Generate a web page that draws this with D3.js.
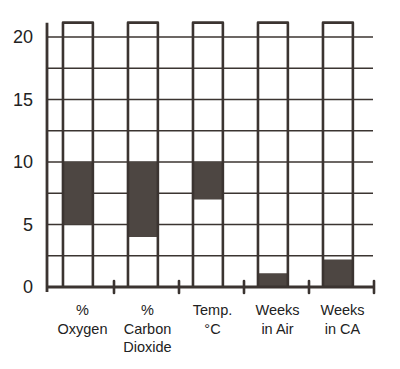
<!DOCTYPE html>
<html>
<head>
<meta charset="utf-8">
<script src="https://cdn.jsdelivr.net/npm/d3@7"></script>
<style>
  html, body { margin: 0; padding: 0; background: #fff; }
  svg { display: block; }
</style>
</head>
<body>
<svg id="chart" width="400" height="369"></svg>
<script>
// ---- data ----
const categories = ["% Oxygen", "% Carbon Dioxide", "Temp. °C", "Weeks in Air", "Weeks in CA"];
const labelLines = [["%", "Oxygen"], ["%", "Carbon", "Dioxide"], ["Temp.", "°C"], ["Weeks", "in Air"], ["Weeks", "in CA"]];
const lowValues = [5, 4, 7, 0, 0];
const highValues = [10, 10, 10, 1.1, 2.2];
const yTicks = [0, 5, 10, 15, 20];
const gridValues = [2.5, 5, 7.5, 10, 12.5, 15, 17.5, 20];
const columnTop = 21.15;

// ---- drawing ----
const svg = d3.select("#chart");
const ink = "#3b3431";
const fill = "#4d4642";

const x = d3.scaleBand().domain(categories).range([49, 374]).padding(0);
const y = d3.scaleLinear().domain([0, 20]).range([287, 37]);
const bw = x.bandwidth();
const barX = c => x(c) + bw * 0.215;
const barW = bw * 0.46;

// horizontal grid lines
svg.append("g").selectAll("line").data(gridValues).join("line")
  .attr("x1", 47).attr("x2", 373)
  .attr("y1", d => y(d)).attr("y2", d => y(d))
  .attr("stroke", ink).attr("stroke-width", 1.6);

// filled ranges
const data = categories.map((c, i) => ({c, lo: lowValues[i], hi: highValues[i]}));
svg.append("g").selectAll("rect").data(data).join("rect")
  .attr("x", d => barX(d.c))
  .attr("y", d => y(d.hi))
  .attr("width", barW)
  .attr("height", d => y(d.lo) - y(d.hi))
  .attr("fill", fill);

// column outlines (open at bottom)
svg.append("g").selectAll("path").data(categories).join("path")
  .attr("d", c => {
    const x0 = barX(c), x1 = barX(c) + barW;
    return `M${x0},${y(0)} L${x0},${y(columnTop)} L${x1},${y(columnTop)} L${x1},${y(0)}`;
  })
  .attr("fill", "none").attr("stroke", ink).attr("stroke-width", 2.6)
  .attr("stroke-linejoin", "round");

// left axis line
svg.append("line")
  .attr("x1", 47).attr("x2", 47)
  .attr("y1", y(columnTop)).attr("y2", y(0) + 5)
  .attr("stroke", ink).attr("stroke-width", 2.8);

// bottom axis
const xAxisG = svg.append("g");
xAxisG.append("line")
  .attr("x1", 46).attr("x2", 375)
  .attr("y1", y(0)).attr("y2", y(0))
  .attr("stroke", ink).attr("stroke-width", 3);
xAxisG.selectAll("line.tick").data(categories).join("line")
  .attr("class", "tick")
  .attr("x1", c => x(c) + bw).attr("x2", c => x(c) + bw)
  .attr("y1", y(0) - 6).attr("y2", y(0) + 6)
  .attr("stroke", ink).attr("stroke-width", 2.6).attr("stroke-linecap", "round");

// y tick labels
svg.append("g").selectAll("text").data(yTicks).join("text")
  .attr("x", 33).attr("y", d => y(d))
  .attr("dy", "0.36em")
  .attr("text-anchor", "end")
  .attr("font-family", "Liberation Sans, Arial, sans-serif")
  .attr("font-size", 18)
  .attr("fill", "#222")
  .text(d => d);

// x category labels
const lab = svg.append("g").selectAll("text").data(categories).join("text")
  .attr("text-anchor", "middle")
  .attr("font-family", "Liberation Sans, Arial, sans-serif")
  .attr("font-size", 14.5)
  .attr("fill", "#222");
lab.each(function(c, i) {
  const t = d3.select(this);
  labelLines[i].forEach((line, k) => {
    t.append("tspan")
      .attr("x", x(c) + bw / 2 + 1)
      .attr("y", 315 + k * 18.5)
      .text(line);
  });
});
</script>
</body>
</html>
